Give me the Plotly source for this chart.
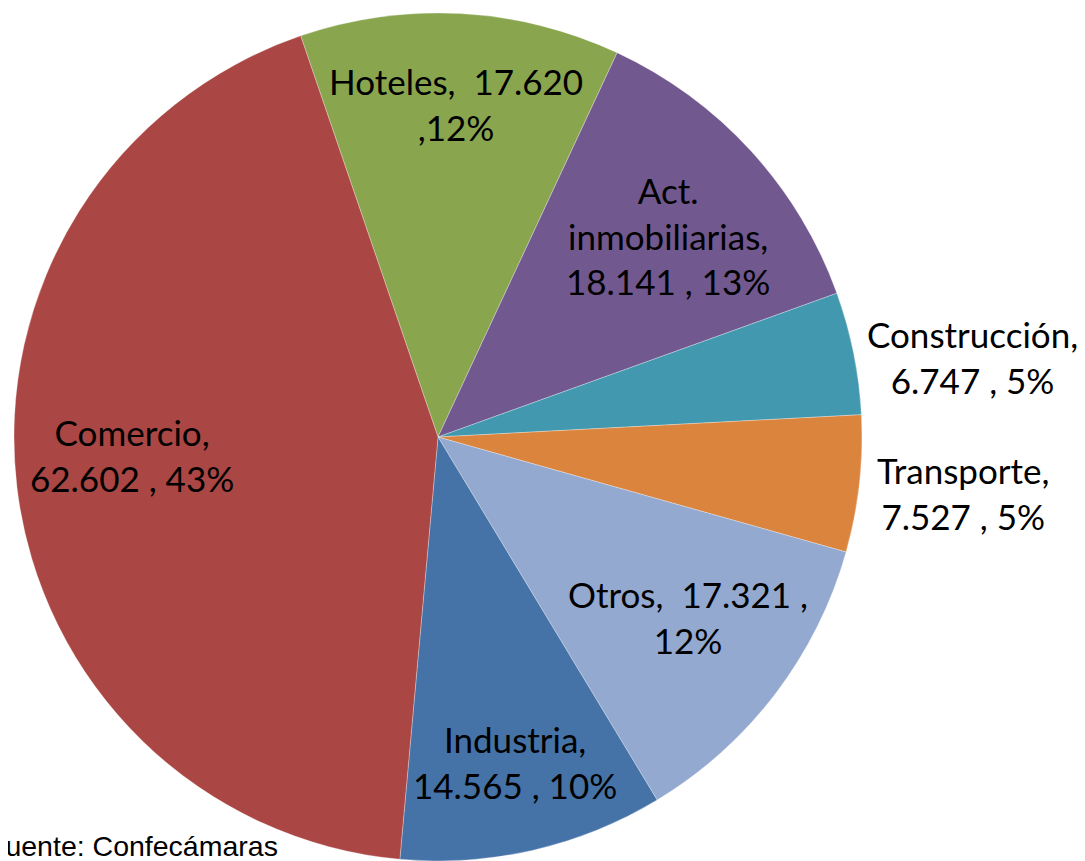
import plotly.graph_objects as go

# ---- data ----
categories = ["Hoteles", "Act. inmobiliarias", "Construcción", "Transporte", "Otros", "Industria", "Comercio"]
values = [17620, 18141, 6747, 7527, 17321, 14565, 62602]
colors = ["#89A54E", "#71588F", "#4198AF", "#DB843D", "#93A9CF", "#4572A7", "#AA4643"]
label_templates = [
    "{n},  {v}<br>,{p}%",
    "{n},<br>{v} , {p}%",
    "{n},<br>{v} , {p}%",
    "{n},<br>{v} , {p}%",
    "{n},  {v} ,<br>{p}%",
    "{n},<br>{v} , {p}%",
    "{n},<br>{v} , {p}%",
]
# label centres in window pixels (x, y from top)
label_pos = [(456, 104), (668, 236), (972, 357), (963, 493), (688, 617), (515, 762), (132, 455)]
source_text = "Fuente: Confecámaras"

OFF = 8  # page body margin
W, H = 1085 - OFF, 861 - OFF
cx, cy, R = 438 - OFF, 437 - OFF, 424

total = sum(values)

fig = go.Figure(go.Pie(
    labels=categories,
    values=values,
    sort=False,
    direction="clockwise",
    rotation=-18.9,
    marker=dict(colors=colors, line=dict(color="rgba(255,255,255,0.5)", width=0.6)),
    textinfo="none",
    hoverinfo="label+value+percent",
    showlegend=False,
    domain=dict(x=[(cx - R) / W, (cx + R) / W], y=[max(0, 1 - (cy + R) / H), 1 - (cy - R) / H]),
))

for name, v, tpl, (px, py) in zip(categories, values, label_templates, label_pos):
    n = name.replace(" ", "<br>")
    vtxt = f"{v:,}".replace(",", ".")
    p = round(v / total * 100)
    fig.add_annotation(
        x=(px - OFF) / W, y=1 - (py - OFF) / H, xref="paper", yref="paper",
        text=tpl.format(n=n, v=vtxt, p=p), showarrow=False,
        xanchor="center", yanchor="middle", align="center",
        font=dict(family="Lato, Calibri, Carlito, sans-serif", size=35, color="#000000"),
    )

fig.add_annotation(
    x=(-14 - OFF) / W, y=1 - (846 - OFF) / H, xref="paper", yref="paper",
    text=source_text, showarrow=False, xanchor="left", yanchor="middle",
    font=dict(family="Liberation Sans, Arial, sans-serif", size=28.5, color="#000000"),
)

fig.update_layout(
    width=W, height=H,
    margin=dict(l=0, r=0, t=0, b=0),
    paper_bgcolor="white", plot_bgcolor="white",
)

fig.write_html("out.html")
